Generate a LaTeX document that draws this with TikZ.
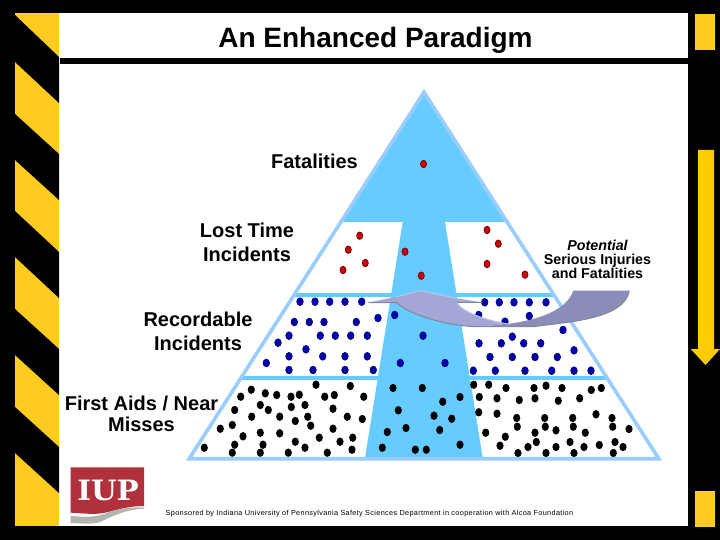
\documentclass[tikz,border=0pt]{standalone}
\usepackage{fontspec}
\setmainfont{Liberation Sans}
\newfontfamily\logofont{DejaVu Serif}
\newfontfamily\footfont[LetterSpace=4.6]{Liberation Sans}
\definecolor{hazard}{HTML}{FFCC1F}
\definecolor{arrowyellow}{HTML}{FFCC00}
\definecolor{paleblue}{HTML}{99CCFF}
\definecolor{skyblue}{HTML}{66CCFF}
\definecolor{lavender}{HTML}{A6A6D6}
\definecolor{slateviolet}{HTML}{8A8DB8}
\definecolor{arrowedge}{HTML}{B8CCE8}
\definecolor{arrowshade}{HTML}{7F8898}
\definecolor{logored}{HTML}{B0303C}
\definecolor{logogray}{HTML}{B4B4AE}
\tikzset{
  x=1pt,y=-1pt,
  biglabel/.style={font=\bfseries\fontsize{20}{24}\selectfont,align=center,inner sep=0pt,text=black},
  reddot/.style={fill=red!80!black,draw=red!40!black,line width=0.6pt},
  bluedot/.style={fill=blue!70!black,draw=blue!40!black,line width=0.6pt},
  blackdot/.style={fill=black},
}
\begin{document}
\begin{tikzpicture}
\useasboundingbox (0,0) rectangle (720,540);
\fill[black] (0,0) rectangle (720,540);
% panel
\fill[white] (59,13) rectangle (688,526);
\fill[black] (60,58) rectangle (688,64);
% hazard stripes
\fill[hazard] (15,13) rectangle (59,526);
\fill[black] (15,15) -- (15,62) -- (59,103) -- (59,57) -- cycle;
\fill[black] (15,114) -- (15,160) -- (59,200) -- (59,154) -- cycle;
\fill[black] (15,211) -- (15,257) -- (59,298) -- (59,252) -- cycle;
\fill[black] (15,309) -- (15,355) -- (59,395) -- (59,349) -- cycle;
\fill[black] (15,407) -- (15,453) -- (59,493) -- (59,447) -- cycle;
% right column
\fill[hazard] (695,14) rectangle (715,50.5);
\fill[hazard] (695,491) rectangle (715,526.5);
\fill[arrowyellow] (698,150) -- (714,150) -- (714,349) -- (720,349) -- (705.5,365) -- (690.7,349) -- (698,349) -- cycle;
% pyramid fill
\fill[skyblue] (424,92) -- (342,222) -- (402.7,222) -- (365,458) -- (482.7,458) -- (445,222) -- (506,222) -- cycle;
\draw[skyblue,line width=4pt] (294.3,294.7) -- (553.7,294.7);
\draw[skyblue,line width=4pt] (241,378) -- (607,378);
% dots
\foreach \p in {(423.5,164),(359.7,235.7),(348.3,249.7),(365.3,263),(343,270),(405,251.7),(421.3,275.7),(487,230),(498.3,243.7),(487,264),(525,274.7)}
  \path[reddot] \p ellipse [x radius=3.1pt,y radius=3.8pt];
\foreach \p in {(300,301.7),(315,301.7),(329.7,301.7),(345,301.7),(361.7,301.7),(294.3,322),(309.3,322),(324,322),(356.3,322),(378,318),(289,335.7),(278,342.7),(320.3,335.7),(335.3,335.7),(350.7,335.7),(367.3,335.7),(306,349.3),(266.3,363),(289,356.3),(322.7,356.3),(345,356.3),(367.3,356.3),(289,370),(313,370),(345,370),(373.3,370),(394.7,315),(423,335.7),(400.3,363),(445,363),(484.7,302.3),(499.3,302.3),(514,302.3),(529.3,302.3),(546,302.3),(478.7,315),(529.3,316),(505,321.7),(563,330),(479,343.3),(501.3,343.3),(512.3,336.7),(523.7,343.3),(540.7,343.3),(574,350.3),(490,357),(512.3,357),(535,357),(557.3,357),(473.3,370.7),(495.3,370.7),(525,370.7),(551.7,370.7),(574,370.7),(591,370.7)}
  \path[bluedot] \p ellipse [x radius=3.3pt,y radius=3.9pt];
\foreach \p in {(316,384.7),(350.3,386),(251.3,389.7),(265.3,393.3),(240.7,396.7),(276.7,395),(291,396.7),(299.3,394.7),(324.7,396.7),(334.3,395),(363.7,396.7),(260.3,405),(234.7,410),(268.3,410),(291.3,407),(305,405),(333,408.7),(251.7,416.7),(279.7,416.7),(307.7,416.7),(347.3,416.7),(362.3,419),(232.3,425),(220.3,428.7),(295.3,421),(310.7,425.7),(333,428.7),(260.3,432.7),(279.7,433.3),(243,436.3),(319.3,437.7),(352.7,437.7),(295.3,441.7),(340,441.7),(234.7,444.7),(263,444.7),(305,447.7),(204.3,447.7),(352,449.7),(232.3,452.7),(260.3,452.7),(288.3,452.7),(327.3,452.7),
(393,388),(422.3,388),(442.7,401.7),(460,397),(398.3,410.3),(434,415.7),(451.7,418.7),(406,428),(387.3,432),(439.7,430),(382.3,447.7),(415.3,449.7),(426.3,449.7),(460,444.7),
(473.7,384.7),(488.7,384.7),(506,388),(534,388),(546,385.7),(562,388),(591.3,390),(601.3,388),(479.3,397),(497,398.3),(519.3,400),(535,398.3),(558.3,400.7),(579.7,398.3),(478.7,412.3),(497,413.7),(516.7,418),(544.7,418),(572.7,418),(596,414.3),(612,418),(517.3,426.7),(545.3,426.7),(573.3,426.7),(612.7,426.7),(629,429),(485.7,432.7),(535,432.7),(556,430.3),(585.3,432.7),(505.3,436.7),(500,445.7),(528,447),(536.3,442),(556,447),(570,442),(584,447),(599.3,445),(615,442),(623,447),(518,453),(546,453),(574,453),(613.3,453)}
  \path[blackdot] \p ellipse [x radius=3.6pt,y radius=4.2pt];
% pyramid outline
\draw[paleblue,line width=3.6pt,miter limit=10] (424,92.2) -- (189.2,458.7) -- (658.8,458.7) -- cycle;
% curved arrow
\fill[slateviolet] (508.3,324) .. controls (535,320) and (566,312) .. (573.3,290.7) -- (629.3,290.7) .. controls (626,308) and (605,318) .. (560,323.3) -- (533.3,326.7) -- (475,326.7) -- cycle;
\fill[lavender] (368.3,302.6) -- (396.7,296.7) -- (420,290.7) -- (456.7,298.3) -- (481.7,302.3) -- (456.7,302.3) .. controls (462,312) and (485,320) .. (508.3,324) -- (475,326.7) .. controls (440,324) and (405,312) .. (396.7,302.6) -- cycle;
\draw[arrowedge,line width=0.9pt] (396.7,296.7) -- (420,290.7) -- (456.7,298.3) (456.7,302.3) .. controls (462,312) and (485,320) .. (508.3,324);
\draw[arrowshade,line width=1pt] (368.3,302.6) -- (396.7,302.6) .. controls (405,312) and (440,325) .. (475,326.7) -- (533.3,326.7) -- (560,323.3) .. controls (605,318) and (626,308) .. (629.3,290.7);
\draw[arrowshade,line width=1pt] (456.7,302.3) -- (481.7,302.3);
% logo
\fill[logored] (70.7,467.3) -- (144,467.3) -- (144,506) .. controls (125,506) and (112,512) .. (100,513.5) .. controls (90,514.5) and (80,513) .. (70.7,512.7) -- cycle;
\fill[logogray] (70.7,516) .. controls (85,517) and (95,518) .. (108,512.5) .. controls (120,508) and (132,507) .. (144,507.5) -- (144,508.5) .. controls (125,510) and (115,515) .. (100,522) .. controls (90,525) and (80,523) .. (70.7,523) -- cycle;
\node[anchor=center,inner sep=0pt,text=white,xscale=1.05] (logo) at (108,490) {\logofont\bfseries\fontsize{28}{28}\selectfont IUP};
% texts
\node[anchor=base,inner sep=0pt,font=\bfseries\fontsize{28}{30}\selectfont] (title) at (375.5,47.7) {An Enhanced Paradigm};
\node[biglabel,anchor=base] (fatal) at (314.5,168.3) {Fatalities};
\node[biglabel] (lost) at (247,242) {Lost Time\\Incidents};
\node[biglabel] (rec) at (198,331) {Recordable\\Incidents};
\node[biglabel,font=\bfseries\fontsize{20}{20.5}\selectfont] (first) at (141.5,414) {First Aids / Near\\Misses};
\node[anchor=center,inner sep=0pt,align=center,font=\bfseries\fontsize{14.3}{13.8}\selectfont] (pot) at (597.5,259.5) {\itshape Potential\\Serious Injuries\\and Fatalities};
\node[anchor=base,inner sep=0pt,font=\footfont\fontsize{7.3}{8}\selectfont] (foot) at (369.5,515) {Sponsored by Indiana University of Pennsylvania Safety Sciences Department in cooperation with Alcoa Foundation};
\end{tikzpicture}
\end{document}
